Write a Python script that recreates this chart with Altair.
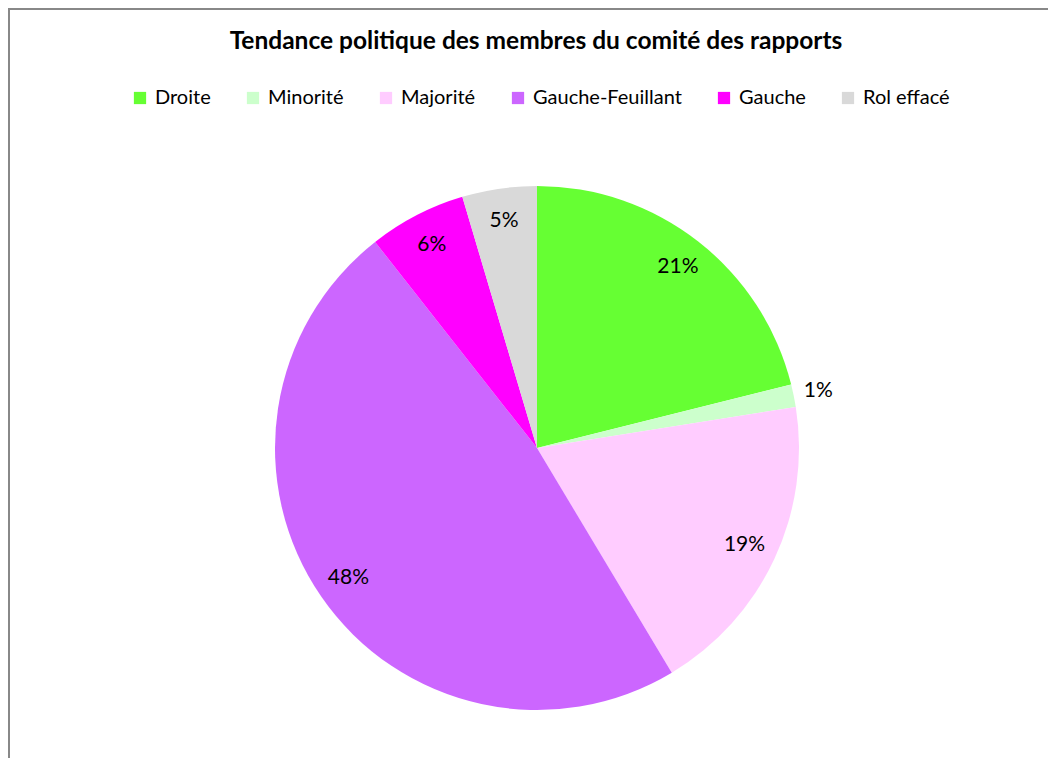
import altair as alt
import pandas as pd

categories = ["Droite", "Minorité", "Majorité", "Gauche-Feuillant", "Gauche", "Rol effacé"]
shares = [21.1, 1.4, 18.9, 48.0, 6.0, 4.6]
labels = ["21%", "1%", "19%", "48%", "6%", "5%"]
colors = ["#66FF33", "#CCFFCC", "#FFCCFF", "#CC66FF", "#FF00FF", "#D9D9D9"]
outside = ["Minorité"]

df = pd.DataFrame({
    "cat": categories,
    "share": shares,
    "label": labels,
    "idx": list(range(len(categories))),
})
df["pos"] = ["out" if c in outside else "in" for c in categories]

W, H = 1040, 690
CX, CY, R = 529, 380, 262
FONT = "Lato"

base = alt.Chart(df).encode(
    theta=alt.Theta("share:Q", stack=True),
    order=alt.Order("idx:Q", sort="ascending"),
)

pie = base.mark_arc(radius=R).encode(
    x=alt.value(CX),
    y=alt.value(CY),
    color=alt.Color(
        "cat:N",
        scale=alt.Scale(domain=categories, range=colors),
        sort=categories,
        legend=alt.Legend(
            orient="none",
            legendX=122,
            legendY=20,
            direction="horizontal",
            columns=6,
            title=None,
            symbolType="square",
            symbolSize=150,
            symbolStrokeWidth=0,
            labelFont=FONT,
            labelFontSize=20,
            labelColor="#000000",
            labelOffset=5,
            columnPadding=32,
        ),
    ),
)

inner_text = base.mark_text(radius=229, font=FONT, fontSize=21, color="#000000").encode(
    x=alt.value(CX),
    y=alt.value(CY),
    text=alt.condition("datum.pos == 'in'", alt.Text("label:N"), alt.value("")),
)

outer_text = base.mark_text(radius=287, font=FONT, fontSize=21, color="#000000").encode(
    x=alt.value(CX),
    y=alt.value(CY),
    text=alt.condition("datum.pos == 'out'", alt.Text("label:N"), alt.value("")),
)

frame_df = pd.DataFrame({"k": [0]})
left_rule = alt.Chart(frame_df).mark_rule(color="#888888", strokeWidth=2).encode(
    x=alt.value(1), y=alt.value(-60), y2=alt.value(H)
)
top_rule = alt.Chart(frame_df).mark_rule(color="#888888", strokeWidth=2).encode(
    x=alt.value(0), x2=alt.value(W), y=alt.value(-59)
)

chart = alt.layer(pie, inner_text, outer_text, left_rule, top_rule).properties(
    width=W,
    height=H,
    padding={"left": 0, "top": 60, "right": 0, "bottom": 0},
    autosize=alt.AutoSizeParams(type="none"),
    title=alt.TitleParams(
        "Tendance politique des membres du comité des rapports",
        anchor="middle",
        font=FONT,
        fontSize=24.5,
        fontWeight="bold",
        color="#000000",
        offset=14,
        dx=8,
        dy=61,
    ),
    background="white",
).configure_view(stroke=None)

chart.save("out.html", embed_options={"renderer": "svg", "actions": False})
